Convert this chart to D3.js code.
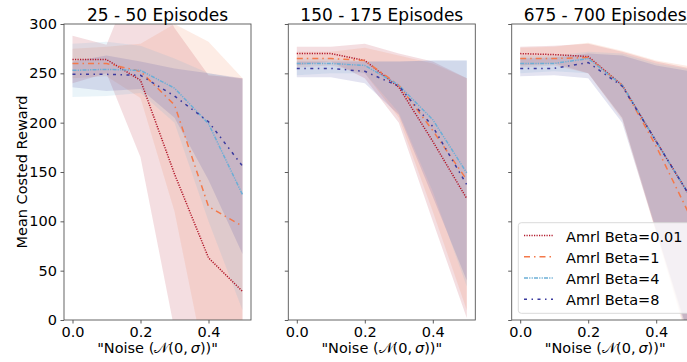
<!DOCTYPE html>
<html>
<head>
<meta charset="utf-8">
<script src="https://cdn.jsdelivr.net/npm/d3@7"></script>
<style>
  body { margin: 0; background: #fff; }
  text { font-family: "DejaVu Sans", sans-serif; fill: #000; }
</style>
</head>
<body>
<div id="chart"></div>
<script>
// x values (noise sigma)
const noise = [0, 0.1, 0.2, 0.3, 0.4, 0.5];
const xTicks = [0, 0.2, 0.4];
const yTicks = [0, 50, 100, 150, 200, 250, 300];
const panelTitles = ["25 - 50 Episodes", "150 - 175 Episodes", "675 - 700 Episodes"];
const seriesNames = ["Amrl Beta=0.01", "Amrl Beta=1", "Amrl Beta=4", "Amrl Beta=8"];

// 25 - 50 episodes: mean, lower, upper per series
const mean25 = [
    [264, 264, 243, 148, 63, 29],
    [260, 260, 252, 218, 115, 95],
    [253, 254, 253, 235, 199, 127],
    [249, 249, 248, 227, 201, 156]
];
const lo25 = [
    [240, 250, 165, -10, -120, -180],
    [245, 247, 225, 110, -60, -60],
    [226, 227, 230, 200, 100, 10],
    [236, 232, 234, 205, 142, 67]
];
const hi25 = [
    [288, 279, 363, 296, 248, 245],
    [275, 277, 280, 300, 282, 245],
    [280, 282, 278, 265, 250, 244],
    [262, 268, 262, 255, 250, 245]
];

// 150 - 175 episodes
const mean150 = [
    [270, 270, 263, 236, 181, 123],
    [265, 265, 263, 238, 192, 142],
    [260, 260, 258, 238, 203, 149],
    [255, 255, 252, 237, 196, 137]
];
const lo150 = [
    [258, 262, 245, 200, 100, 2],
    [256, 258, 250, 205, 110, 10],
    [248, 250, 250, 210, 130, 34],
    [246, 246, 240, 208, 125, 40]
];
const hi150 = [
    [277, 277, 280, 270, 262, 245],
    [272, 272, 276, 268, 260, 245],
    [265, 265, 262, 262, 263, 263],
    [262, 262, 262, 262, 263, 263]
];

// 675 - 700 episodes
const mean675 = [
    [270, 269, 267, 238, 181, 125],
    [265, 265, 266, 238, 176, 105],
    [260, 260, 265, 238, 181, 125],
    [255, 255, 261, 237, 181, 125]
];
const lo675 = [
    [258, 260, 250, 205, 90, -20],
    [256, 258, 250, 203, 88, -30],
    [250, 252, 250, 205, 92, -20],
    [247, 248, 245, 200, 90, -25]
];
const hi675 = [
    [277, 278, 280, 272, 262, 255],
    [276, 277, 281, 273, 263, 257],
    [268, 268, 272, 270, 260, 254],
    [265, 266, 270, 268, 258, 252]
];

const colors = ["#b2182b", "#f4794a", "#6baed6", "#3a3a9e"];
const dashes = ["1.2,1.3", "6,4,1.5,4", "4,1.2,1.2,1.2,1.2,1.2", "3,4.5,1.5,4.5"];

const width = 687, height = 362;
const panelW = 187, panelH = 296, marginTop = 24;
const lefts = [64, 288.3, 511.7];
const panels = [
    {mean: mean25, lo: lo25, hi: hi25},
    {mean: mean150, lo: lo150, hi: hi150},
    {mean: mean675, lo: lo675, hi: hi675}
];

const svg = d3.select("#chart").append("svg")
    .attr("width", width)
    .attr("height", height);

const x = d3.scaleLinear().domain([-0.025, 0.525]).range([0, panelW]);
const y = d3.scaleLinear().domain([0, 300]).range([panelH, 0]);

const area = d3.area()
    .x(d => x(d.x))
    .y0(d => y(d.lo))
    .y1(d => y(d.hi));
const line = d3.line()
    .x(d => x(d.x))
    .y(d => y(d.y));

panels.forEach((p, pi) => {
    const g = svg.append("g")
        .attr("transform", "translate(" + lefts[pi] + "," + marginTop + ")");

    g.append("clipPath").attr("id", "clip" + pi)
        .append("rect").attr("width", panelW).attr("height", panelH);

    const plot = g.append("g").attr("clip-path", "url(#clip" + pi + ")");

    // bands
    p.mean.forEach((m, si) => {
        const pts = noise.map((n, i) => ({x: n, lo: p.lo[si][i], hi: p.hi[si][i]}));
        plot.append("path")
            .attr("d", area(pts))
            .attr("fill", colors[si])
            .attr("fill-opacity", 0.14);
    });
    // mean lines
    p.mean.forEach((m, si) => {
        const pts = noise.map((n, i) => ({x: n, y: m[i]}));
        plot.append("path")
            .attr("d", line(pts))
            .attr("fill", "none")
            .attr("stroke", colors[si])
            .attr("stroke-width", 1.5)
            .attr("stroke-dasharray", dashes[si]);
    });

    // axes
    const yAxis = d3.axisLeft(y).tickValues(yTicks).tickSize(3.5).tickPadding(3.5);
    if (pi > 0) yAxis.tickFormat("");
    const xAxis = d3.axisBottom(x).tickValues(xTicks).tickSize(3.5).tickPadding(3.5)
        .tickFormat(d3.format(".1f"));

    const ya = g.append("g").call(yAxis);
    const xa = g.append("g").attr("transform", "translate(0," + panelH + ")").call(xAxis);
    [ya, xa].forEach(a => {
        a.select(".domain").remove();
        a.selectAll(".tick line").attr("stroke", "#333").attr("stroke-width", 0.8);
        a.selectAll(".tick text").style("font-size", "14.5px").attr("fill", "#000");
    });

    // frame
    g.append("rect")
        .attr("width", panelW).attr("height", panelH)
        .attr("fill", "none")
        .attr("stroke", "#555")
        .attr("stroke-width", 0.9);

    // title
    g.append("text")
        .attr("x", panelW / 2)
        .attr("y", -3)
        .attr("text-anchor", "middle")
        .style("font-size", "17px")
        .text(panelTitles[pi]);

    // x label
    const xl = g.append("text")
        .attr("x", panelW / 2)
        .attr("y", panelH + 33)
        .attr("text-anchor", "middle")
        .style("font-size", "14.5px");
    xl.append("tspan").text("\"Noise (");
    xl.append("tspan").text("\u{1D4A9}");
    xl.append("tspan").text("(0,\u2009");
    xl.append("tspan").style("font-style", "italic").text("\u03C3");
    xl.append("tspan").text("))\"");

    if (pi === 0) {
        g.append("text")
            .attr("transform", "translate(" + (-37.5) + "," + (panelH / 2) + ") rotate(-90)")
            .attr("text-anchor", "middle")
            .style("font-size", "14.5px")
            .text("Mean Costed Reward");
    }

    // legend in last panel
    if (pi === 2) {
        const lg = svg.append("g");
        lg.append("rect")
            .attr("x", 518.3).attr("y", 222.7)
            .attr("width", 180).attr("height", 90.6)
            .attr("rx", 3)
            .attr("fill", "#fff").attr("fill-opacity", 0.8)
            .attr("stroke", "#d6d6d6").attr("stroke-width", 0.9);
        seriesNames.forEach((name, si) => {
            const cy = 235.5 + si * 21.25;
            lg.append("line")
                .attr("x1", 524).attr("x2", 553)
                .attr("y1", cy).attr("y2", cy)
                .attr("stroke", colors[si])
                .attr("stroke-width", 1.5)
                .attr("stroke-dasharray", dashes[si]);
            lg.append("text")
                .attr("x", 566)
                .attr("y", cy + 6)
                .style("font-size", "14.5px")
                .text(name);
        });
    }
});
</script>
</body>
</html>
